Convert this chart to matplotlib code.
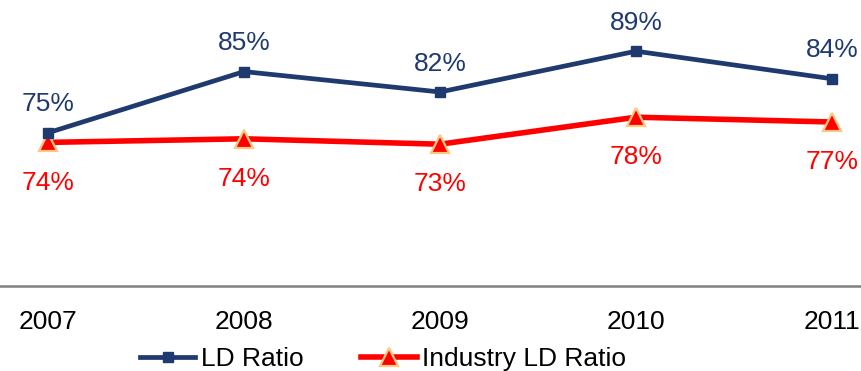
import matplotlib
matplotlib.use("Agg")
import matplotlib.pyplot as plt

years = ["2007", "2008", "2009", "2010", "2011"]
ld_ratio = [75.2, 85.4, 82.0, 88.8, 84.2]
industry_ld = [73.6, 74.2, 73.3, 77.8, 77.0]

plt.rcParams['font.family'] = ['Liberation Sans', 'DejaVu Sans']

navy = "#1F3A6E"
red = "#FF0000"

fig = plt.figure(figsize=(8.62, 3.71), dpi=100)
ax = fig.add_axes([0, 85/371, 1, 286/371])

x = list(range(len(years)))
ax.plot(x, ld_ratio, color=navy, lw=3.4, marker="s", ms=7.5, mfc=navy, mec=navy,
        label="LD Ratio", zorder=3)
ax.plot(x, industry_ld, color=red, lw=4.0, marker="^", ms=13, mfc=red, mec="#FFC880",
        mew=1.6, label="Industry LD Ratio", zorder=2)

for xi, v in zip(x, ld_ratio):
    ax.annotate(f"{round(v)}%", (xi, v), xytext=(0, 20.5), textcoords="offset points",
                ha="center", va="center", fontsize=19, color=navy)
for xi, v in zip(x, industry_ld):
    ax.annotate(f"{round(v)}%", (xi, v), xytext=(0, -29), textcoords="offset points",
                ha="center", va="center", fontsize=19, color=red)

ax.set_xlim(-48/196, 4 + 30/196)
ax.set_ylim(49.67, 97.33)
ax.set_xticks(x)
ax.set_xticklabels(years, fontsize=19)
ax.tick_params(axis="x", length=0, pad=17)
ax.set_yticks([])
for s in ["top", "right", "left"]:
    ax.spines[s].set_visible(False)
ax.spines["bottom"].set_color("#808080")
ax.spines["bottom"].set_linewidth(1.8)
ax.patch.set_alpha(0)

fig.legend(loc="center", bbox_to_anchor=(383/862, 1 - 359/371), ncol=2, frameon=False,
           fontsize=19, handlelength=2.1, handletextpad=0.2, columnspacing=2.2,
           borderpad=0)

fig.savefig("out.png", dpi=100)
